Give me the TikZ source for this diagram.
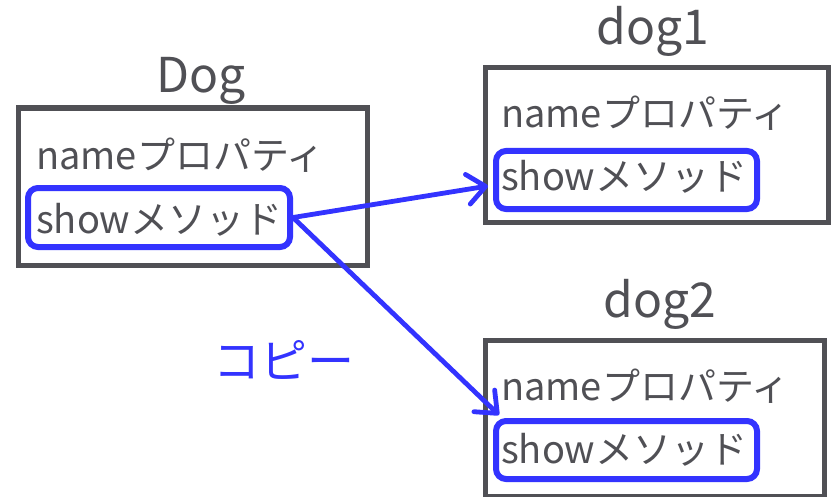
\documentclass[tikz,border=0pt]{standalone}
\usepackage{fontspec}
\setmainfont{Noto Sans CJK JP}
\usetikzlibrary{arrows.meta,calc}
\definecolor{fg}{HTML}{505055}
\definecolor{bl}{HTML}{3333FF}
\tikzset{
  objbox/.style={draw=fg, line width=5.5pt, inner sep=0pt},
  showbox/.style={draw=bl, line width=6pt, rounded corners=10pt, inner sep=0pt},
  item/.style={anchor=base west, inner sep=0pt, text=fg, font=\fontsize{38}{44}\selectfont},
  title/.style={anchor=base, inner sep=0pt, text=fg, font=\fontsize{48}{56}\selectfont},
  copyarrow/.style={draw=bl, line width=4.8pt, line cap=round, line join=round,
     -{Straight Barb[length=18pt, width=30pt, line cap=round, line join=round]}}
}
\begin{document}
\begin{tikzpicture}[x=1pt,y=-1pt]
\useasboundingbox (0,0) rectangle (834,497);
% Dog
\node[objbox, minimum width=349pt, minimum height=157.5pt] (b0) at (193,186.75) {};
\node[title] (t0) at (201,93) {Dog};
\node[showbox, minimum width=262pt, minimum height=59pt] (s0) at (159,217.5) {};
\node[item] (n0) at (36,170) {nameプロパティ};
\node[item] (m0) at (36,233) {showメソッド};
% dog1
\node[objbox, minimum width=343pt, minimum height=155pt] (b1) at (657,145) {};
\node[title] (t1) at (653,45) {dog1};
\node[showbox, minimum width=261pt, minimum height=58pt] (s1) at (626.5,180) {};
\node[item] (n1) at (501,128) {nameプロパティ};
\node[item] (m1) at (501,190) {showメソッド};
% dog2
\node[objbox, minimum width=339pt, minimum height=156.5pt] (b2) at (655,418.75) {};
\node[title] (t2) at (660,317) {dog2};
\node[showbox, minimum width=261pt, minimum height=58pt] (s2) at (626.5,450) {};
\node[item] (n2) at (501,400) {nameプロパティ};
\node[item] (m2) at (501,463) {showメソッド};
% label
\node[inner sep=0pt, text=bl, font=\fontsize{47}{54}\selectfont] (cp) at (284,360) {コピー};
% arrows
\coordinate (e1) at ($(s1.west)+(-5,6)$);
\coordinate (e2) at ($(s2.north west)+(6,-3)$);
\draw[copyarrow] (s0.east) -- (e1);
\draw[copyarrow] (s0.east) -- (e2);
\end{tikzpicture}
\end{document}
